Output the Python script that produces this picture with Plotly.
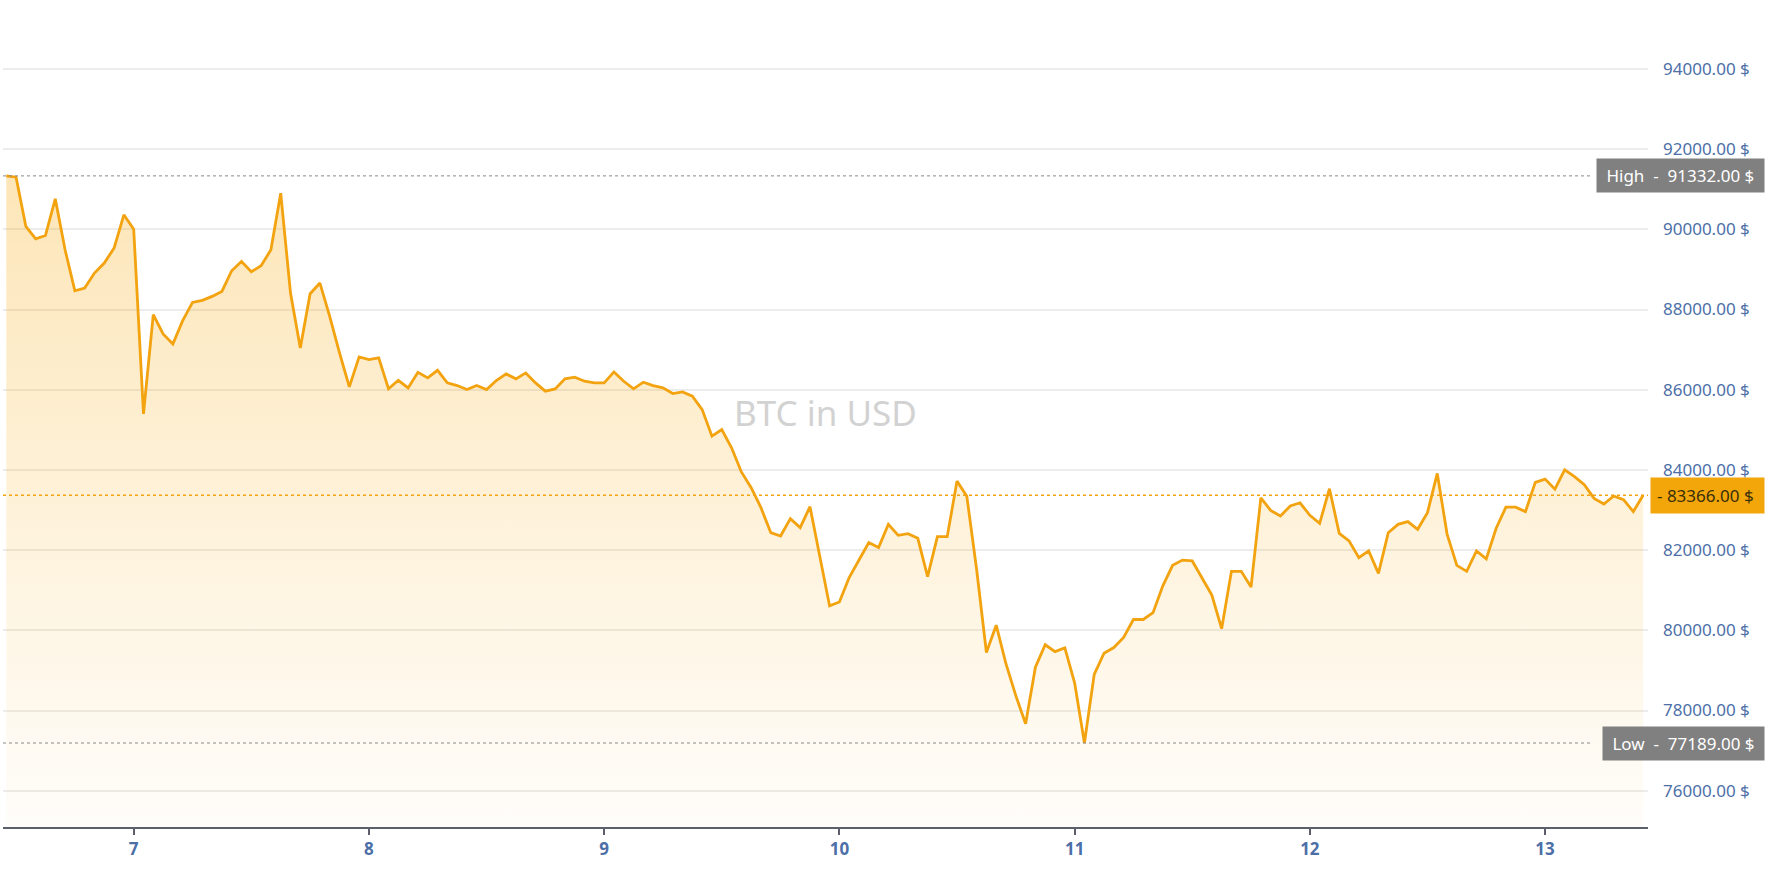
import pandas as pd
import plotly.graph_objects as go

# ---- data (hourly BTC price in USD) ----
start_time = "2025-03-06 11:00"
prices = [
    91332, 91300, 90070, 89763, 89846, 90759, 89489, 88468, 88535, 88909,
    89158, 89532, 90361, 90005, 85396, 87871, 87390, 87141, 87721, 88177,
    88227, 88327, 88451, 88967, 89198, 88940, 89091, 89489, 90901, 88411,
    87042, 88394, 88660, 87829, 86917, 86071, 86818, 86750, 86792, 86021,
    86235, 86044, 86434, 86295, 86484, 86170, 86103, 86004, 86103, 86004,
    86230, 86394, 86270, 86419, 86170, 85963, 86021, 86270, 86311, 86211,
    86170, 86170, 86444, 86211, 86021, 86187, 86104, 86045, 85904, 85946,
    85837, 85505, 84841, 85007, 84552, 83950, 83556, 83058, 82435, 82352,
    82784, 82560, 83083, 81853, 80608, 80707, 81315, 81754, 82187, 82063,
    82643, 82368, 82410, 82294, 81340, 82335, 82335, 83720, 83346, 81521,
    79447, 80127, 79160, 78370, 77670, 79080, 79640, 79470, 79560, 78690,
    77189, 78900, 79430, 79570, 79820, 80270, 80270, 80440, 81110, 81620,
    81750, 81730, 81300, 80880, 80040, 81470, 81470, 81080, 83300, 82990,
    82850, 83100, 83180, 82866, 82667, 83530, 82418, 82230, 81810, 81980,
    81420, 82435, 82643, 82710, 82518, 82933, 83912, 82400, 81620, 81470,
    81980, 81780, 82540, 83070, 83070, 82960, 83690, 83770, 83520, 84000,
    83830, 83630, 83290, 83150, 83350, 83260, 82960, 83366,
]
times = pd.date_range(start_time, periods=len(prices), freq="h")
high_value = 91332
low_value = 77189
current_value = prices[-1]
title_text = "BTC in USD"
high_label = "High"
low_label = "Low"

# ---- layout constants ----
W, H = 1766, 869
ML, MR, MT, MB = 3, 118, 0, 42
PW = W - ML - MR
x_box_right = (W - 1 - ML) / PW
x_high_line_end = (1591 - ML) / PW
x_low_line_end = (1593 - ML) / PW

line_color = "#f2a30f"
tick_color = "#4d6fa8"
font_family = "Noto Sans"

fig = go.Figure()
fig.add_trace(go.Scatter(
    x=times, y=prices, mode="lines",
    line=dict(color=line_color, width=2.8),
    fill="tozeroy",
    fillgradient=dict(
        type="vertical",
        colorscale=[[0, "rgba(247,165,0,0.02)"], [1, "rgba(247,165,0,0.28)"]],
        start=75095, stop=high_value,
    ),
    hoverinfo="skip", showlegend=False,
))

fig.add_shape(type="line", xref="paper", yref="y", x0=0, x1=x_high_line_end,
              y0=high_value, y1=high_value,
              line=dict(color="#8a8a8a", width=1, dash="dot"))
fig.add_shape(type="line", xref="paper", yref="y", x0=0, x1=x_low_line_end,
              y0=low_value, y1=low_value,
              line=dict(color="#8a8a8a", width=1, dash="dot"))
fig.add_shape(type="line", xref="paper", yref="y", x0=0, x1=1,
              y0=current_value, y1=current_value,
              line=dict(color=line_color, width=1.5, dash="3px,3px"))

nb = "\u00a0"
fig.add_annotation(xref="paper", yref="y", x=x_box_right, y=high_value,
                   xanchor="right", yanchor="middle", showarrow=False,
                   text=f"{nb}{high_label}{nb}{nb}-{nb}{nb}{high_value:.2f} ${nb}",
                   bgcolor="#808080", borderpad=5,
                   font=dict(family=font_family, size=17, color="white"))
fig.add_annotation(xref="paper", yref="y", x=x_box_right, y=low_value,
                   xanchor="right", yanchor="middle", showarrow=False,
                   text=f"{nb}{low_label}{nb}{nb}-{nb}{nb}{low_value:.2f} ${nb}",
                   bgcolor="#808080", borderpad=5,
                   font=dict(family=font_family, size=17, color="white"))
fig.add_annotation(xref="paper", yref="y", x=x_box_right, y=current_value,
                   xanchor="right", yanchor="middle", showarrow=False,
                   text=f"-{nb}{current_value:.2f} ${nb}",
                   bgcolor="#f2a60a", borderpad=6,
                   font=dict(family=font_family, size=17, color="#3a2f08"))
fig.add_annotation(xref="paper", yref="paper", x=0.5003, y=0.501,
                   xanchor="center", yanchor="middle", showarrow=False,
                   text=title_text,
                   font=dict(family=font_family, size=35, color="#d2d2d2"))

fig.update_layout(
    width=W, height=H,
    margin=dict(l=ML, r=MR, t=MT, b=MB, pad=0),
    paper_bgcolor="white", plot_bgcolor="white",
    font=dict(family=font_family),
    xaxis=dict(
        type="date",
        range=["2025-03-06 10:40", "2025-03-13 10:30"],
        tick0="2025-03-07", dtick=86400000, tickformat="%-d",
        showgrid=False, zeroline=False,
        showline=True, linecolor="#5b606b", linewidth=2,
        ticks="outside", ticklen=6, tickwidth=1.5, tickcolor="#5b606b",
        tickfont=dict(family=font_family, size=17, color=tick_color, weight="bold"),
    ),
    yaxis=dict(
        side="right",
        range=[75095, 95718],
        tick0=0, dtick=2000,
        tickformat=".2f", ticksuffix=" $",
        showgrid=True, gridcolor="#ececec", gridwidth=1.5,
        zeroline=False, showline=False, ticks="",
        ticklabelstandoff=14,
        tickfont=dict(family=font_family, size=17, color=tick_color),
    ),
)

fig.write_html(
    "out.html",
    config={"displayModeBar": False},
    post_script="document.body.style.margin='0';document.body.style.overflow='hidden';",
)
